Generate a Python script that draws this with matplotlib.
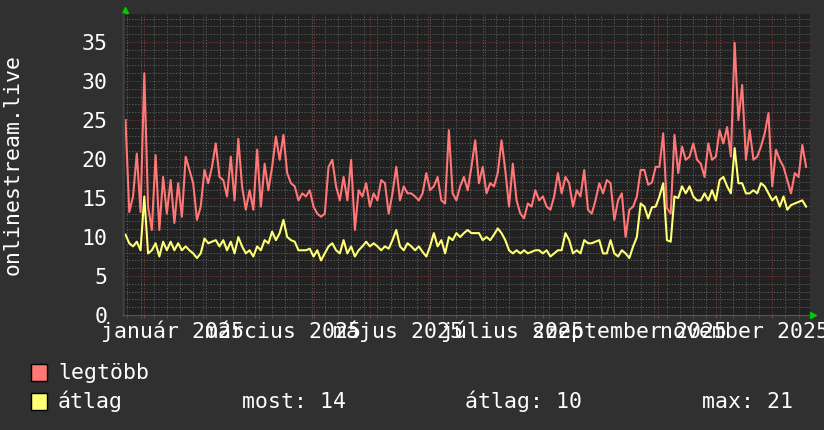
import numpy as np
import matplotlib
matplotlib.use("Agg")
import matplotlib.pyplot as plt
import matplotlib.dates as mdates
from matplotlib.ticker import MultipleLocator, NullFormatter
from matplotlib.patches import Rectangle
import datetime as dt

# one value every 2 days, starting 2024-12-22
start = np.datetime64("2024-12-22")
step_days = 2

legtobb = [
    25, 13.2, 15.2, 20.7, 13.2, 31, 13.9, 10.9, 20.5, 10.9,
    17.7, 13, 17.3, 11.8, 16.9, 12.6, 20.3, 18.6, 16.9, 12.2,
    13.9, 18.6, 16.9, 19, 22, 17.7, 17.3, 15.2, 20.3, 14.7,
    22.6, 16.5, 13.5, 16, 13.5, 21.2, 13.9, 19.4, 16, 19,
    22.9, 19.9, 23.1, 18.2, 16.9, 16.5, 14.7, 15.6,
    15.2, 16, 13.9, 13, 12.6, 13, 19, 19.9, 16.5, 14.7,
    17.7, 14.7, 19.9, 10.9, 16, 15.2, 16.9, 13.9, 15.6, 14.7,
    17.3, 16.9, 13, 15.6, 19, 14.7, 16.5, 15.6, 15.6, 15.2,
    14.7, 15.6, 18.2, 16, 16.5, 17.7, 14.7, 14.3, 23.7, 15.6,
    14.7, 16.5, 17.7, 16, 19, 22.4,
    16.9, 19, 15.6, 16.9, 16.5, 18.2, 22.4, 18.6, 13.9, 19.4,
    14.7, 13, 12.4, 14.3, 13.9, 16, 14.7, 15.2, 13.9, 13.5,
    15.2, 18.2, 15.6, 17.7, 16.9, 13.9, 16, 15.2, 18.6, 13.5,
    13, 14.7, 16.9, 15.6, 17.3, 16.9, 12.2, 14.7, 15.6, 10,
    13.5, 13.9, 15.2,
    18.6, 18.6, 16.7, 17, 19, 19, 23.3, 13.7, 13, 23.1,
    18.2, 21.6, 19.9, 20.3, 22, 19.9, 19.4, 17.7, 22, 19.9,
    20.3, 23.7, 22, 24.1, 20.3, 34.9, 25, 29.5, 19.9, 23.7,
    19.9, 20.3, 21.6, 23.3, 25.9, 16.5, 21.2, 19.9, 19, 17.3,
    15.6, 18.2, 17.7, 21.8, 19,
]

atlag = [
    10.3, 9.2, 8.8, 9.4, 8.3, 15.2, 7.9, 8.3, 9.2, 7.5,
    9.4, 8.3, 9.4, 8.3, 9.2, 8.3, 8.8, 8.3, 7.9, 7.3,
    7.9, 9.8, 9.2, 9.4, 9.6, 8.8, 9.6, 8.3, 9.4, 7.9,
    10, 8.8, 7.9, 8.3, 7.5, 8.8, 8.3, 9.6, 9.2, 10.7,
    9.6, 10.5, 12.2, 10, 9.6, 9.4, 8.3, 8.3,
    8.3, 8.5, 7.5, 8.3, 7, 7.9, 8.8, 9.2, 8.3, 7.9,
    9.6, 7.9, 8.8, 7.5, 8.3, 8.8, 9.4, 8.8, 9.2, 8.8,
    8.3, 8.8, 8.5, 9.6, 10.9, 8.8, 8.3, 9.2, 8.8, 8.3,
    8.8, 8.1, 7.5, 8.8, 10.5, 8.8, 9.6, 7.9, 10, 9.6,
    10.5, 10, 10.5, 10.9, 10.5, 10.5,
    10.5, 9.6, 10, 9.6, 10.3, 11.1, 10.5, 9.6, 8.3, 7.9,
    8.3, 7.9, 8.3, 7.9, 8.1, 8.3, 8.3, 7.9, 8.3, 7.5,
    7.9, 8.3, 8.3, 10.5, 9.6, 7.9, 8.3, 7.9, 9.6, 9.2,
    9.2, 9.4, 9.6, 7.9, 7.9, 9.6, 7.9, 7.5, 8.3, 7.9,
    7.3, 8.8, 10,
    14.3, 13.9, 12.4, 13.8, 13.9, 15.2, 16.9, 9.6, 9.4, 15.2,
    15, 16.5, 15.6, 16.5, 15.2, 14.7, 14.7, 15.6, 14.7, 16,
    14.7, 17.3, 17.7, 16.5, 15.6, 21.4, 16.9, 16.9, 15.6, 15.6,
    16, 15.6, 16.9, 16.5, 15.6, 14.7, 15.2, 13.9, 15.2, 13.5,
    14.1, 14.3, 14.5, 14.7, 13.9,
]

month_labels = ["január 2025", "március 2025", "május 2025",
                "július 2025", "szeptember 2025", "november 2025"]
month_label_dates = ["2025-01-16", "2025-03-16", "2025-05-16",
                     "2025-07-16", "2025-09-16", "2025-11-16"]

legend_names = ["legtöbb", "átlag"]
stat_names = ["most", "átlag", "max"]
stat_values = [14, 10, 21]

dates = start + np.arange(len(legtobb)) * np.timedelta64(step_days, "D")

bg = "#303030"
canvas = "#212121"
red = "#ff7777"
yellow = "#ffff77"

plt.rcParams["font.family"] = ["DejaVu Sans Mono", "DejaVu Sans"]
plt.rcParams["font.size"] = 15.5
plt.rcParams["text.color"] = "white"

W, H = 824, 430
fig = plt.figure(figsize=(W / 100, H / 100), dpi=100, facecolor=bg)
ax = fig.add_axes([123 / W, 1 - 315 / H, (810 - 123) / W, (315 - 14) / H])
ax.set_facecolor(canvas)

ax.plot(dates, legtobb, color=red, lw=1.5)
ax.plot(dates, atlag, color=yellow, lw=1.5)

ax.set_xlim(dt.datetime(2024, 12, 20, 16), dt.datetime(2025, 12, 21, 2))
ax.set_ylim(0, 38.6)

ax.xaxis.set_major_locator(mdates.MonthLocator())
ax.xaxis.set_minor_locator(mdates.WeekdayLocator(byweekday=mdates.MO))
ax.xaxis.set_major_formatter(NullFormatter())
ax.yaxis.set_major_locator(MultipleLocator(5))
ax.yaxis.set_minor_locator(MultipleLocator(1))

ax.grid(which="minor", color="#5a5a5a", linestyle=(0, (1.2, 1.6)), lw=0.75)
ax.grid(which="major", color="#7a3a3a", linestyle=(0, (1.2, 1.6)), lw=0.75)
ax.set_axisbelow(True)

ax.tick_params(axis="x", which="both", length=2, color="#555555")
ax.tick_params(axis="y", which="both", length=0)
ax.tick_params(axis="y", which="major", pad=11, labelcolor="white", labelsize=15.5)

for s in ["top", "right"]:
    ax.spines[s].set_visible(False)
ax.spines["left"].set_color("#3c3c3c")
ax.spines["left"].set_linewidth(2)
ax.spines["bottom"].set_color("#555555")

for lab, d in zip(month_labels, month_label_dates):
    ax.text(np.datetime64(d), -23 / 301, lab, transform=ax.get_xaxis_transform(),
            ha="center", va="baseline", color="white", fontsize=15.5)

# axis arrows
ax.plot([2 / 687], [1 + 4.5 / 301], marker="^", color="#00cc00", ms=5,
        transform=ax.transAxes, clip_on=False)
ax.plot([1 + 3 / 687], [0], marker=">", color="#00cc00", ms=5,
        transform=ax.transAxes, clip_on=False)

fig.text(13 / W, 1 - 164.5 / H, "onlinestream.live", rotation=90,
         ha="center", va="center", fontsize=15.5)

# legend
rows = [(364, 379), (393, 408)]
for (top, base), name, col in zip(rows, legend_names, [red, yellow]):
    fig.patches.append(Rectangle((31 / W, 1 - (top + 17) / H), 16 / W, 17 / H,
                                 transform=fig.transFigure, facecolor=col,
                                 edgecolor="black", lw=1))
    fig.text(58 / W, 1 - base / H, name, va="baseline")

for xpx, n, v in zip([242, 465, 702], stat_names, stat_values):
    fig.text(xpx / W, 1 - 408 / H, f"{n}: {v}", va="baseline")

fig.savefig("out.png", dpi=100, facecolor=bg)
